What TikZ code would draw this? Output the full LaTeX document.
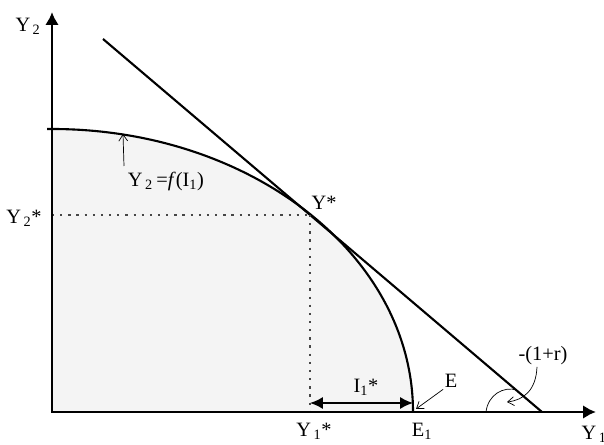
\documentclass[tikz,border=0pt]{standalone}
\usepackage{fontspec}
\setmainfont{Liberation Serif}
\usepackage{tikz}
\usetikzlibrary{arrows.meta,positioning,calc}

\begin{document}
\begin{tikzpicture}[
  x=0.025cm, y=0.025cm,
  axis/.style={line width=1.9pt, -{Latex[length=0.32cm,width=0.34cm]}},
  curve/.style={line width=1.5pt},
  guide/.style={line width=1.8pt, dash pattern=on 1.6pt off 4.2pt, gray!55!black},
  span/.style={line width=1.2pt, {Latex[length=0.32cm,width=0.3cm]}-{Latex[length=0.32cm,width=0.3cm]}},
  note/.style={line width=0.5pt, -{Straight Barb[length=0.16cm,width=0.22cm]}},
  lbl/.style={font=\fontsize{14.5}{16}\selectfont, inner sep=1pt}
]
% frame of the picture
\useasboundingbox (-52,-33) rectangle (552,412);
\coordinate (o) at (0,0);
\coordinate (ytop) at (0,400);
\coordinate (xend) at (544,0);
\coordinate (ystar) at (258,197);
\coordinate (lineA) at (51,373);
\coordinate (lineB) at (490,0);

% shaded set under the frontier
\fill[gray!9] (o) -- (0,283) arc[start angle=90, end angle=0, x radius=361, y radius=283] -- cycle;
\draw[curve] (-5,283) -- (0,283) arc[start angle=90, end angle=0, x radius=361, y radius=283];

% tangent line
\draw[curve] (lineA) -- (lineB);

% dotted guides
\draw[guide] (o |- ystar) -- (ystar);
\draw[guide] (ystar) -- (ystar |- o);

% axes
\draw[axis] (0,-1) -- (ytop);
\draw[axis] (-1,0) -- (xend);

% labels
\node[lbl] (y2) at (-24,386) {Y\textsubscript{\,2}};
\node[lbl, anchor=north west] (y1) at (528,-12) {Y\textsubscript{\,1}};
\node[lbl] (y2s) at (-28,194) {Y\textsubscript{\,2}*};
\node[lbl] (y1s) at (262,-19) {Y\textsubscript{\,1}*};
\node[lbl] (e1l) at (370,-19) {E\textsubscript{1}};
\node[lbl] (ys) at (272,209) {Y*};
\node[lbl] (i1s) at (314,25) {I\textsubscript{1}*};
\node[lbl] (el) at (399,31) {E};
\node[lbl] (slope) at (491,56) {-(1+r)};
\node[lbl] (fn) at (114,231) {Y\textsubscript{\,2}\,=\textit{f}(I\textsubscript{1})};

% investment span
\draw[span] (258,9) -- (361,9);

% pointers
\coordinate (fnTip) at (71,278);
\draw[note] (72,246) -- (fnTip);
\coordinate (eTip) at (364,3);
\draw[note] (el.south west) -- (eTip);
\draw[line width=0.5pt] (434,0) .. controls (436,17) and (451,26) .. (465,22);
\coordinate (arcTip) at (455,10);
\draw[note] (slope.south) ++(-6,0) .. controls (484,22) and (472,12) .. (arcTip);
\end{tikzpicture}
\end{document}
